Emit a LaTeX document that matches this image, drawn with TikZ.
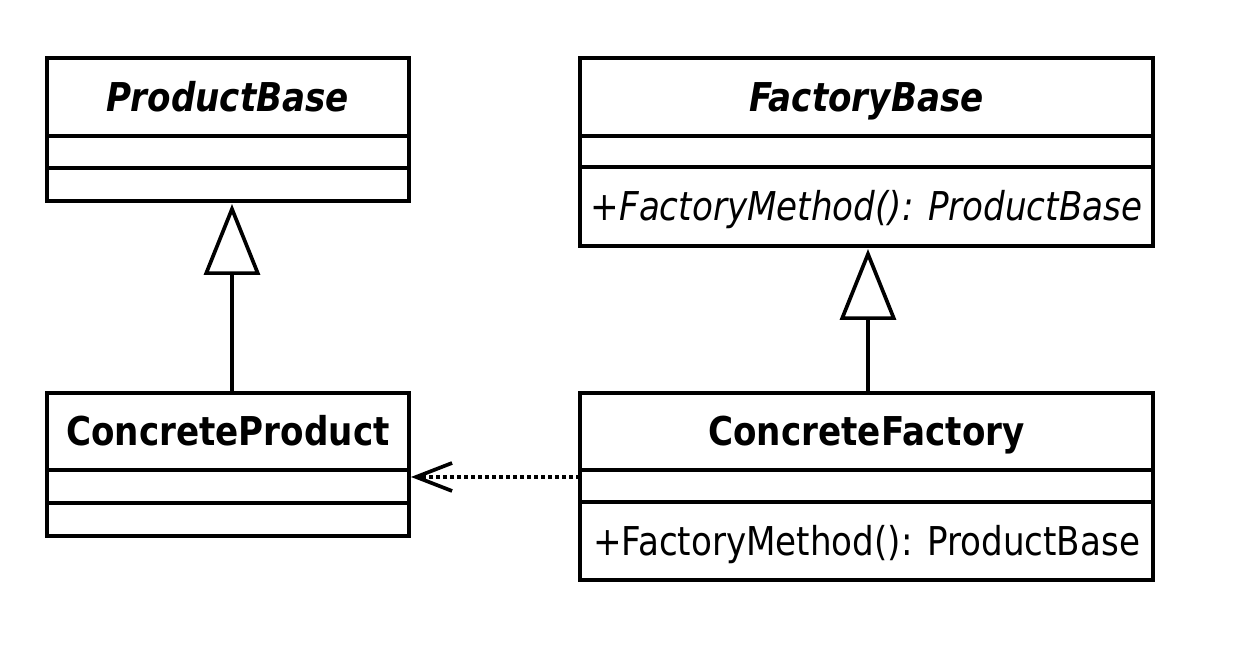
\documentclass[tikz,border=0pt]{standalone}
\usepackage{fontspec}
\setmainfont{DejaVu Sans}[FakeStretch=0.86]
\usetikzlibrary{arrows.meta,positioning}

\begin{document}
\begin{tikzpicture}[line width=1.05pt,
  every node/.style={font=\fontsize{11.3pt}{13pt}\selectfont},
  part/.style={draw,rectangle,inner sep=0pt,outer sep=0pt,text height=8.2pt,text depth=0pt},
  narrow/.style={part,minimum width=3.62cm},
  wide/.style={part,minimum width=5.73cm},
  inherit/.style={-{Triangle[open,length=0.71cm,width=0.56cm]},shorten >=0.03cm},
  depend/.style={-{Straight Barb[length=0.36cm,width=0.28cm]},dash pattern=on 0.04cm off 0.03cm}]

 \useasboundingbox (0,0) rectangle (12.40,6.56);

 % base classes
 \node[narrow,minimum height=0.78cm] (pb) at (2.28,5.59) {\textbf{\textit{ProductBase}}};
 \node[narrow,minimum height=0.32cm] (pb attr) [below=0pt of pb] {};
 \node[narrow,minimum height=0.33cm] (pb ops) [below=0pt of pb attr] {};

 \node[wide,minimum height=0.78cm] (fb) at (8.665,5.59) {\textbf{\textit{FactoryBase}}};
 \node[wide,minimum height=0.31cm] (fb attr) [below=0pt of fb] {};
 \node[wide,minimum height=0.79cm] (fb ops) [below=0pt of fb attr] {\textit{+FactoryMethod(): ProductBase}};

 % concrete classes
 \node[narrow,minimum height=0.77cm] (cp) at (2.28,2.245) {\textbf{ConcreteProduct}};
 \node[narrow,minimum height=0.33cm] (cp attr) [below=0pt of cp] {};
 \node[narrow,minimum height=0.33cm] (cp ops) [below=0pt of cp attr] {};

 \node[wide,minimum height=0.77cm] (cf) at (8.665,2.245) {\textbf{ConcreteFactory}};
 \node[wide,minimum height=0.32cm] (cf attr) [below=0pt of cf] {};
 \node[wide,minimum height=0.78cm] (cf ops) [below=0pt of cf attr] {+FactoryMethod(): ProductBase};

 \draw[inherit] ([xshift=0.04cm]cp.north) -- ([xshift=0.04cm]pb ops.south);
 \draw[inherit] ([xshift=0.015cm]cf.north) -- ([xshift=0.015cm]fb ops.south);
 \draw[depend] ([yshift=-0.07cm]cf attr.north west) -- ([xshift=0.02cm,yshift=-0.07cm]cp attr.north east);

\end{tikzpicture}
\end{document}
